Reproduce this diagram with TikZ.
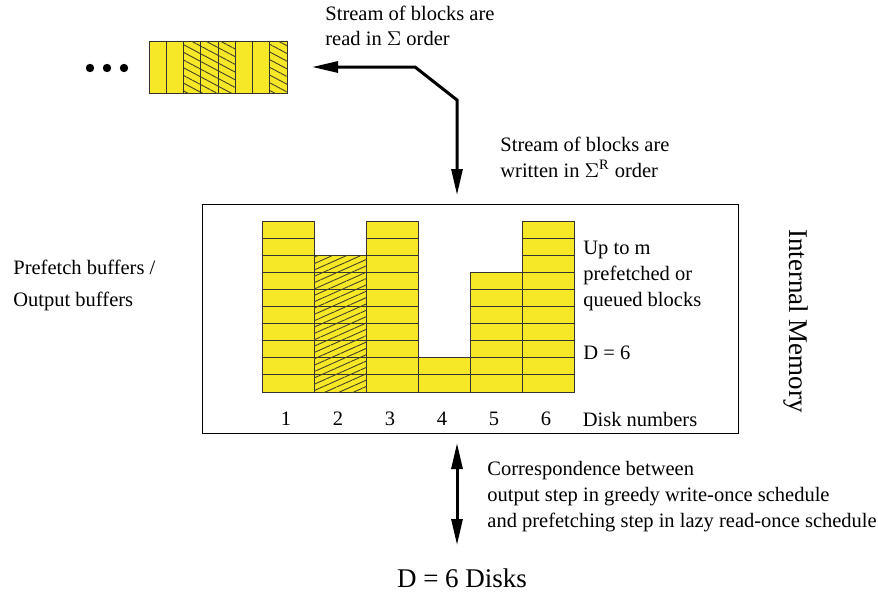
\documentclass[tikz,border=0pt]{standalone}
\usepackage{fontspec}
\setmainfont{Liberation Serif}
\usetikzlibrary{arrows.meta,patterns.meta}
\definecolor{blockyellow}{RGB}{246,232,38}
\definecolor{hatchgray}{RGB}{70,68,40}
\tikzset{
  blk/.style={fill=blockyellow, draw=black!80, line width=0.5pt},
  hatchup/.style={postaction={pattern={Lines[angle=24,distance=2.9pt,line width=0.45pt]}, pattern color=hatchgray}},
  hatchdown/.style={postaction={pattern={Lines[angle=-28,distance=3.4pt,line width=0.45pt]}, pattern color=hatchgray}},
  flow/.style={line width=1.5pt, line join=miter},
  bigtip/.tip={Triangle[length=13pt,width=5.5pt]},
  lbl/.style={inner sep=0pt, align=left, anchor=base west},
}
\begin{document}
\begin{tikzpicture}[x=0.5pt, y=-0.5pt, font=\fontsize{10.25}{13}\selectfont]
  \useasboundingbox (0,0) rectangle (878,594);
  % stream of blocks at the top
  \foreach \d in {90,107,124}
    \fill (\d,68) circle (2.1pt);
  \foreach \k in {1,...,8}
    \draw[blk] ({149+(\k-1)*17.25},41) rectangle ++(17.25,52);
  \foreach \k in {3,4,5,8}
    \draw[blk, hatchdown] ({149+(\k-1)*17.25},41) rectangle ++(17.25,52);
  \coordinate (stream) at (312,67);
  \node[lbl] (readtxt) at (325,46) {Stream of blocks are\\read in $\Sigma$ order};
  % internal memory
  \node[draw, line width=0.5pt, minimum width=268pt, minimum height=114.5pt] (mem) at (470,318.5) {};
  \coordinate (bendA) at (415,67);
  \coordinate (bendB) at (457,100);
  \coordinate (memin) at (457,195);
  \draw[flow, bigtip-bigtip] (stream) -- (bendA) -- (bendB) -- (memin);
  \node[lbl] (writetxt) at (500,177) {Stream of blocks are\\written in $\Sigma^{\mathrm{R}}$ order};
  % the buffers, one column per disk
  \foreach \c/\h in {1/10,2/8,3/10,4/2,5/7,6/10} {
    \foreach \r in {1,...,\h}
      \draw[blk] ({262+(\c-1)*52},{392-(\r-1)*17.1}) rectangle ++(52,-17.1);
    \node (num\c) at ({286+(\c-1)*52},419) {\c};
  }
  \foreach \r in {1,...,8}
    \draw[blk, hatchup] (314,{392-(\r-1)*17.1}) rectangle ++(52,-17.1);
  \node (disknum) at (640,419) {Disk numbers};
  \node[lbl] (uptom) at (583,306) {Up to m\\prefetched or\\queued blocks};
  \node[lbl] (dsix) at (583,359) {D = 6};
  \node[lbl, align=left] (bufs) at (13,306) {Prefetch buffers /\\[3pt]Output buffers};
  \node[rotate=-90, font=\fontsize{13.5}{16}\selectfont] (memname) at (796,321) {Internal Memory};
  % disks below
  \coordinate (memout) at (457,443);
  \coordinate (diskin) at (457,545);
  \draw[flow, bigtip-bigtip] (memout) -- (diskin);
  \node[lbl] (corr) at (487,527) {Correspondence between\\output step in greedy write-once schedule\\and prefetching step in lazy read-once schedule};
  \node[font=\fontsize{13.5}{16}\selectfont] (disks) at (462,578) {D = 6 Disks};
\end{tikzpicture}
\end{document}
